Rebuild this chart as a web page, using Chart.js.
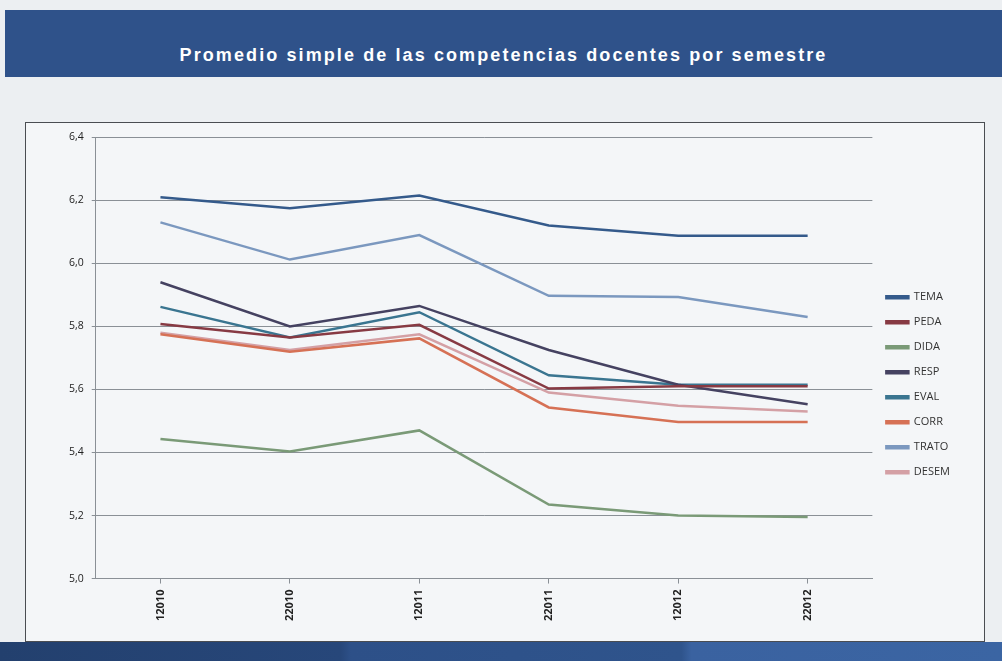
<!DOCTYPE html>
<html>
<head>
<meta charset="utf-8">
<script src="https://cdn.jsdelivr.net/npm/chart.js@4.4.1/dist/chart.umd.min.js"></script>
<style>
  html, body { margin: 0; padding: 0; }
  body {
    width: 1002px; height: 661px; overflow: hidden; position: relative;
    background: #eceff2;
    font-family: "Liberation Sans", Arial, sans-serif;
  }
  #cabecera {
    position: absolute; left: 5px; top: 10px; width: 997px; height: 67px;
    background: #2f528a;
    color: #fff; font-weight: bold; font-size: 18px; letter-spacing: 2.1px;
    text-align: center; line-height: 91px;
  }
  #caja {
    position: absolute; left: 25px; top: 122px; width: 958px; height: 518px;
    border: 1px solid #4a4d52; background: #f4f6f8;
  }
  #pie {
    position: absolute; left: 0; top: 642px; width: 1002px; height: 19px;
    background: linear-gradient(90deg, #23406e 0%, #27477a 34%, #2d5088 35%, #2f548c 68%, #3a62a0 69%, #3b65a3 100%);
  }
</style>
</head>
<body>
<div id="cabecera">Promedio simple de las competencias docentes por semestre</div>
<div id="caja"><canvas id="grafico" width="958" height="518"></canvas></div>
<div id="pie"></div>

<script>
// semestres (eje x)
const semestres = ['12010', '22010', '12011', '22011', '12012', '22012'];

// promedios por competencia
const tema  = [6.21, 6.175, 6.215, 6.12, 6.088, 6.088];
const peda  = [5.808, 5.765, 5.805, 5.603, 5.61, 5.61];
const dida  = [5.443, 5.403, 5.47, 5.235, 5.2, 5.195];
const resp  = [5.94, 5.80, 5.865, 5.725, 5.615, 5.553];
const evalu = [5.862, 5.765, 5.845, 5.645, 5.615, 5.615];
const corr  = [5.775, 5.72, 5.762, 5.543, 5.497, 5.497];
const trato = [6.13, 6.012, 6.09, 5.897, 5.893, 5.83];
const desem = [5.78, 5.725, 5.775, 5.59, 5.548, 5.53];

// marcas del eje y
const ticksY = [5.0, 5.2, 5.4, 5.6, 5.8, 6.0, 6.2, 6.4];

function serie(nombre, datos, color) {
  return {
    label: nombre,
    data: datos,
    borderColor: color,
    backgroundColor: color,
    borderWidth: 2.5,
    pointRadius: 0,
    tension: 0,
    fill: false
  };
}

const ctx = document.getElementById('grafico').getContext('2d');
new Chart(ctx, {
  type: 'line',
  data: {
    labels: semestres,
    datasets: [
      serie('TEMA', tema, '#345a8b'),
      serie('PEDA', peda, '#873a43'),
      serie('DIDA', dida, '#7a9a77'),
      serie('RESP', resp, '#454261'),
      serie('EVAL', evalu, '#3a7590'),
      serie('CORR', corr, '#d67155'),
      serie('TRATO', trato, '#7b98bf'),
      serie('DESEM', desem, '#d4a0a5')
    ]
  },
  options: {
    responsive: false,
    animation: false,
    layout: { padding: { top: 10, right: 24, left: 35, bottom: 14 } },
    plugins: {
      tooltip: { enabled: false },
      legend: {
        position: 'right',
        // título vacío solo para bajar un poco los elementos
        title: { display: true, text: ' ', font: { size: 8 }, padding: 0 },
        labels: {
          boxWidth: 22,
          boxHeight: 2,
          padding: 14,
          color: '#333',
          font: { family: '"Open Sans", "DejaVu Sans", sans-serif', size: 11 }
        }
      }
    },
    scales: {
      x: {
        offset: true,
        grid: { display: true, drawOnChartArea: false, drawTicks: true, tickLength: 5, color: '#8a9096' },
        border: { color: '#8a9096' },
        ticks: {
          minRotation: 90, maxRotation: 90, padding: 6,
          color: '#222',
          font: { family: '"Open Sans", "DejaVu Sans", sans-serif', size: 11, weight: 'bold' }
        }
      },
      y: {
        min: 5.0, max: 6.4,
        afterBuildTicks: (eje) => { eje.ticks = ticksY.map(v => ({ value: v })); },
        grid: { color: '#8a9096', lineWidth: 1, tickLength: 4 },
        border: { color: '#8a9096' },
        ticks: {
          padding: 8,
          color: '#222',
          font: { family: '"Open Sans", "DejaVu Sans", sans-serif', size: 10.5 },
          callback: (v) => Number(v).toFixed(1).replace('.', ',')
        }
      }
    }
  }
});
</script>
</body>
</html>
